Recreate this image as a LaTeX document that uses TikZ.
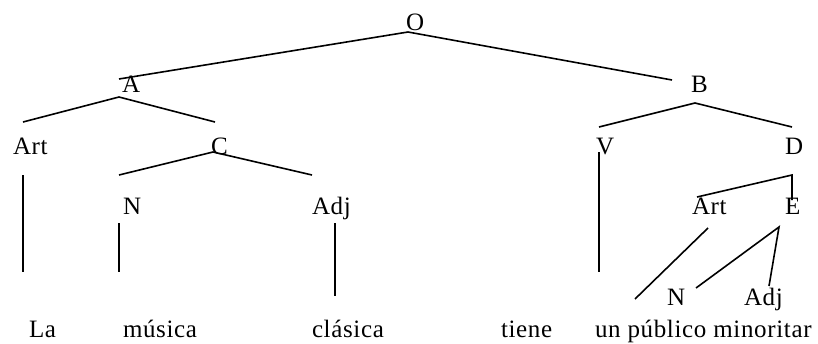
\documentclass[tikz,border=0pt]{standalone}
\usepackage{fontspec}
\setmainfont[LetterSpace=2.6]{Liberation Serif}
\begin{document}
\begin{tikzpicture}[x=1pt,y=-1pt,
  lbl/.style={anchor=base west,inner sep=0pt,outer sep=0pt,font=\fontsize{25}{30}\selectfont},
  edge/.style={line width=1.6pt,line cap=butt}]
\useasboundingbox (0,0) rectangle (818,343);
% labels
\node[lbl] (O) at (406,30) {O};
\node[lbl] (A) at (122,92) {A};
\node[lbl] (B) at (691,92) {B};
\node[lbl] (Art) at (13,154) {Art};
\node[lbl] (C) at (211,154) {C};
\node[lbl] (V) at (596,154) {V};
\node[lbl] (D) at (785,154) {D};
\node[lbl] (N) at (123,214) {N};
\node[lbl] (Adj) at (312,214) {Adj};
\node[lbl] (Art2) at (692,214) {Art};
\node[lbl] (E) at (785,214) {E};
\node[lbl] (N2) at (667,305) {N};
\node[lbl] (Adj2) at (744,305) {Adj};
\node[lbl] (w1) at (29,337) {La};
\node[lbl] (w2) at (123,337) {música};
\node[lbl] (w3) at (312,337) {clásica};
\node[lbl] (w4) at (501,337) {tiene};
\node[lbl] (w5) at (595,337) {un público minoritar};
% line end points
\coordinate (o0) at (408,32);
\coordinate (o1) at (119,79);
\coordinate (o2) at (672,80);
\coordinate (a0) at (119,97);
\coordinate (a1) at (23,122);
\coordinate (a2) at (215,122);
\coordinate (c0) at (213,152);
\coordinate (c1) at (119,175);
\coordinate (c2) at (312,175);
\coordinate (b0) at (695,103);
\coordinate (b1) at (599,127);
\coordinate (b2) at (792,127);
\coordinate (art1) at (23,175);
\coordinate (art2) at (23,272);
\coordinate (n1) at (119,223);
\coordinate (n2) at (119,272);
\coordinate (adj1) at (335,223);
\coordinate (adj2) at (335,296);
\coordinate (v1) at (599,152);
\coordinate (v2) at (599,272);
\coordinate (d0) at (792,175);
\coordinate (d1) at (697,197);
\coordinate (d2) at (792,200);
\coordinate (ar1) at (708,228);
\coordinate (ar2) at (635,299);
\coordinate (e0) at (779,227);
\coordinate (e1) at (696,288);
\coordinate (e2) at (769,286);
% connectors
\draw[edge] (o1) -- (o0) -- (o2);
\draw[edge] (a1) -- (a0) -- (a2);
\draw[edge] (c1) -- (c0) -- (c2);
\draw[edge] (b1) -- (b0) -- (b2);
\draw[edge] (art1) -- (art2);
\draw[edge] (n1) -- (n2);
\draw[edge] (adj1) -- (adj2);
\draw[edge] (v1) -- (v2);
\draw[edge] (d1) -- (d0) -- (d2);
\draw[edge] (ar1) -- (ar2);
\draw[edge] (e1) -- (e0) -- (e2);
\end{tikzpicture}
\end{document}
